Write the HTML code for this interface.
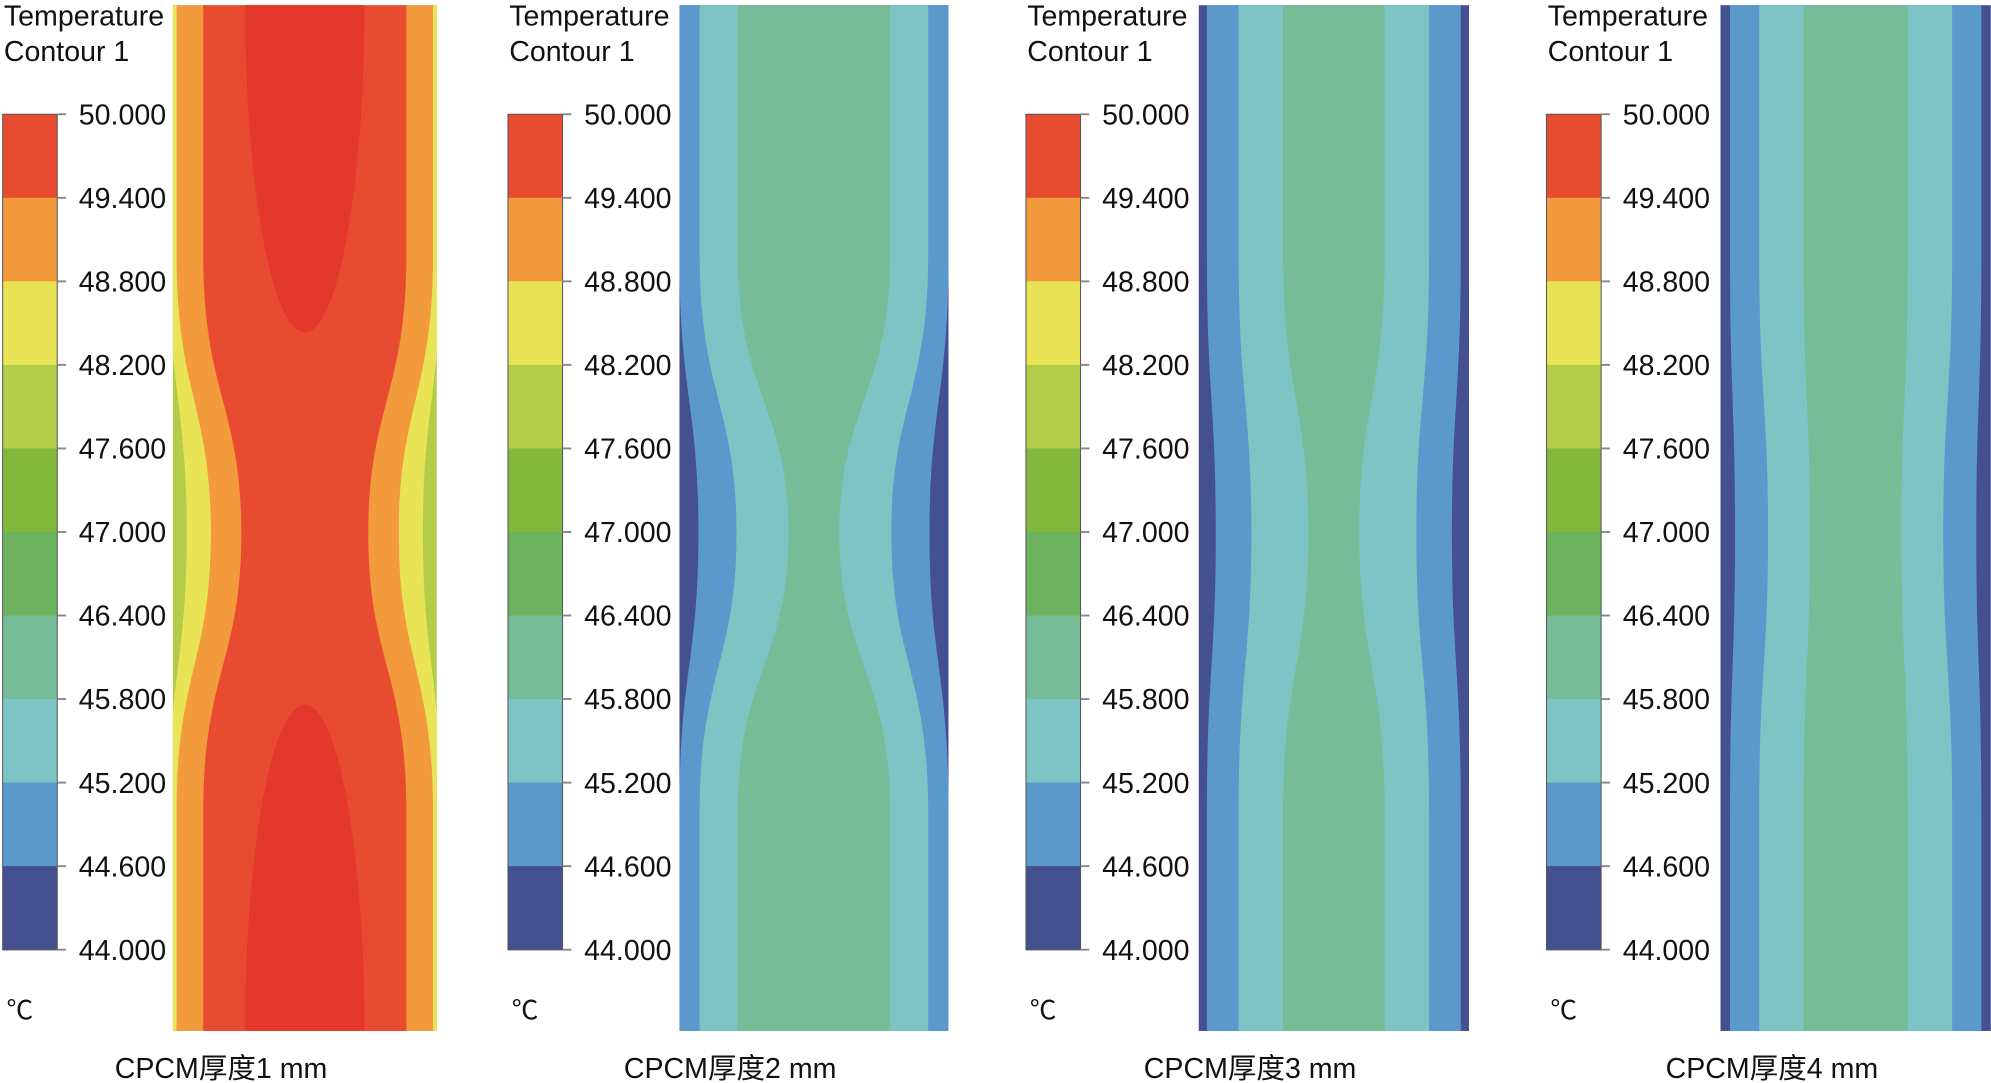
<!DOCTYPE html>
<html><head><meta charset="utf-8"><style>
html,body{margin:0;padding:0;background:#fff;overflow:hidden;width:1991px;height:1083px;}
svg{display:block;}
text{font-family:"Liberation Sans","Noto Sans CJK SC",sans-serif;fill:#111;}
</style></head><body>
<svg id="chart" width="1991" height="1083" viewBox="0 0 1568 853" xmlns="http://www.w3.org/2000/svg"></svg>
<script>
// Colorbar data
const levels = ["50.000","49.400","48.800","48.200","47.600","47.000","46.400","45.800","45.200","44.600","44.000"];
const bandColors = ["#e84c30","#f39a3c","#e9e455","#b3cc4a","#82b83c","#6db25e","#76bc96","#7cc5c4","#5b98cc","#44508f"];
const captions = ["CPCM厚度1 mm","CPCM厚度2 mm","CPCM厚度3 mm","CPCM厚度4 mm"];
// Contour half-widths per panel (top/bottom vs. mid-height), innermost drawn last
const bgColors = ["#b3cc4a","#44508f","#44508f","#44508f"];
const contourColors = [
  ["#e9e455","#f39a3c","#e84c30"],
  ["#5b98cc","#7cc5c4","#76bc96"],
  ["#5b98cc","#7cc5c4","#76bc96"],
  ["#5b98cc","#7cc5c4","#76bc96"]
];
const hwTop = [[107,101,80],[106,90,60],[100,75,40],[99,76,41]];
const hwMid = [[93,74,50],[91,61,20],[93,65,20],[95,69,36]];

const svg=document.getElementById('chart');
const NS='http://www.w3.org/2000/svg';
function mk(tag,attrs,parent){const e=document.createElementNS(NS,tag);for(const k in attrs)e.setAttribute(k,attrs[k]);(parent||svg).appendChild(e);return e;}

const panelX=[0,398,806,1216];
const rectX=[136,535,944,1355];
const rectW=[208,212,213,213];
const y0=4,y1=812,ym=420;
const cbTop=90,cbBot=748;
const bandH=(cbBot-cbTop)/bandColors.length;
const defs=mk('defs',{});

for(let p=0;p<4;p++){
  const g=mk('g',{});
  
  
  const px=panelX[p];
  const t=mk('text',{x:px+3,y:20,'font-size':22.5},g);t.textContent='Temperature';
  
  const t2=mk('text',{x:px+3,y:48,'font-size':22.5},g);t2.textContent='Contour 1';
  
  bandColors.forEach((c,i)=>{
    const r=mk('rect',{x:px+2,y:cbTop+i*bandH,width:43,height:bandH+0.5,fill:c},g);
    
  });
  mk('rect',{x:px+2,y:cbTop,width:43,height:cbBot-cbTop,fill:'none',stroke:'#555','stroke-width':0.8},g);
  levels.forEach((l,i)=>{
    const y=cbTop+i*bandH;
    mk('line',{x1:px+45,x2:px+52,y1:y,y2:y,stroke:'#888','stroke-width':1.5},g);
    const lt=mk('text',{x:px+62,y:y+8,'font-size':22.5},g);lt.textContent=l;
    
  });
  const u=mk('text',{x:px+5,y:803,'font-size':21,'font-family':'"Liberation Serif","Noto Serif CJK SC",serif'},g);u.textContent='℃';
  
  // contour plot
  const rx=rectX[p],rw=rectW[p],cx=rx+rw/2;
  const cp=mk('clipPath',{id:'clip'+p},defs);
  mk('rect',{x:rx,y:y0,width:rw,height:y1-y0},cp);
  const pg=mk('g',{'clip-path':'url(#clip'+p+')'},g);
  const bg=mk('rect',{x:rx,y:y0,width:rw,height:y1-y0,fill:bgColors[p]},pg);
  
  contourColors[p].forEach((c,k)=>{
    const a=hwTop[p][k],b=hwMid[p][k];
    const yA=200,yB=640;
    const d=`M${cx-a},${y0} L${cx-a},${yA} C${cx-a},${yA+110} ${cx-b},${ym-100} ${cx-b},${ym} C${cx-b},${ym+100} ${cx-a},${yB-110} ${cx-a},${yB} L${cx-a},${y1} L${cx+a},${y1} L${cx+a},${yB} C${cx+a},${yB-110} ${cx+b},${ym+100} ${cx+b},${ym} C${cx+b},${ym-100} ${cx+a},${yA+110} ${cx+a},${yA} L${cx+a},${y0} Z`;
    const path=mk('path',{d:d,fill:c},pg);
    
  });
  if(p===0){
    const e1=mk('ellipse',{cx:cx,cy:y0,rx:47,ry:258,fill:'#e5382c'},pg);
    
    const e2=mk('ellipse',{cx:cx,cy:y1,rx:47,ry:257,fill:'#e5382c'},pg);
    
  }
  const cap=mk('text',{x:cx-66,y:849,'font-size':22.5,'text-anchor':'middle'},g);cap.textContent=captions[p];
  
}
</script>
</body></html>
